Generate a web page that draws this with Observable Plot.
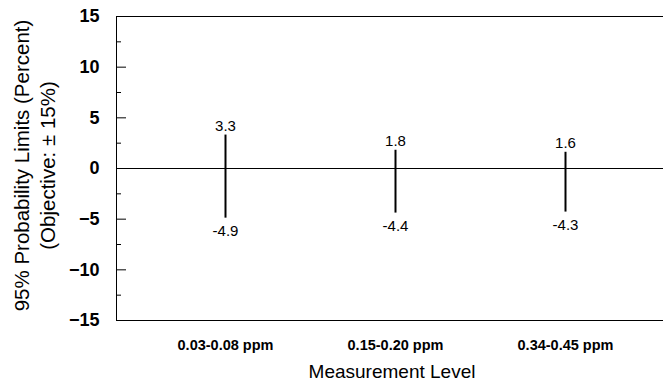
<!DOCTYPE html>
<html>
<head>
<meta charset="utf-8">
<script src="https://cdn.jsdelivr.net/npm/d3@7"></script>
<script src="https://cdn.jsdelivr.net/npm/@observablehq/plot@0.6"></script>
<style>
  html, body { margin: 0; padding: 0; background: #fff; }
  svg { display: block; }
</style>
</head>
<body>
<div id="chart"></div>
<script>
const categories = ["0.03-0.08 ppm", "0.15-0.20 ppm", "0.34-0.45 ppm"];
const upperLimits = [3.3, 1.8, 1.6];
const lowerLimits = [-4.9, -4.4, -4.3];
const majorTicks = [-15, -10, -5, 0, 5, 10, 15];
const minorTicks = [-12.5, -7.5, -2.5, 2.5, 7.5, 12.5];
const yTitle = "95% Probability Limits (Percent)\n(Objective: \u00b1 15%)";
const xTitle = "Measurement Level";

const data = categories.map((c, i) => ({cat: c, hi: upperLimits[i], lo: lowerLimits[i]}));

const W = 663, H = 385, mL = 116, mR = -2, mT = 16, mB = 65;
const frameW = W - mL - mR;
const font = "Liberation Sans, Arial, Helvetica, sans-serif";

const chart = Plot.plot({
  width: W,
  height: H,
  marginLeft: mL,
  marginRight: mR,
  marginTop: mT,
  marginBottom: mB,
  style: {fontFamily: font, color: "#000", background: "#fff"},
  x: {type: "point", domain: categories, padding: 0, insetLeft: 109, insetRight: 100},
  y: {domain: [-15, 15]},
  marks: [
    Plot.ruleY([-15, 15], {stroke: "#000"}),
    Plot.frame({anchor: "left", stroke: "#000"}),
    Plot.tickY(majorTicks, {y: d => d, insetRight: frameW - 10, stroke: "#000"}),
    Plot.tickY(minorTicks, {y: d => d, insetRight: frameW - 5, stroke: "#000"}),
    Plot.ruleY([0], {stroke: "#000"}),
    Plot.axisY(majorTicks, {tickSize: 0, tickPadding: 17, fontSize: 18, fontWeight: "bold", label: null, fill: "#000"}),
    Plot.axisX({tickSize: 0, tickPadding: 19, fontSize: 14.5, fontWeight: "bold", label: null, fill: "#000"}),
    Plot.ruleX(data, {x: "cat", y1: "lo", y2: "hi", stroke: "#000", strokeWidth: 2}),
    Plot.text(data, {x: "cat", y: "hi", text: d => String(d.hi), lineAnchor: "bottom", dy: -4, fontSize: 15, fill: "#000"}),
    Plot.text(data, {x: "cat", y: "lo", text: d => String(d.lo), lineAnchor: "top", dy: 7, fontSize: 15, fill: "#000"}),
    Plot.text([yTitle], {frameAnchor: "left", textAnchor: "middle", text: d => d, rotate: -90, dx: -83, dy: -3, lineHeight: 1.25, fontSize: 20.5, fill: "#000"}),
    Plot.text([xTitle], {frameAnchor: "bottom", text: d => d, dx: 1, dy: 51, lineAnchor: "middle", fontSize: 19, fill: "#000"})
  ]
});
document.getElementById("chart").appendChild(chart);
</script>
</body>
</html>
